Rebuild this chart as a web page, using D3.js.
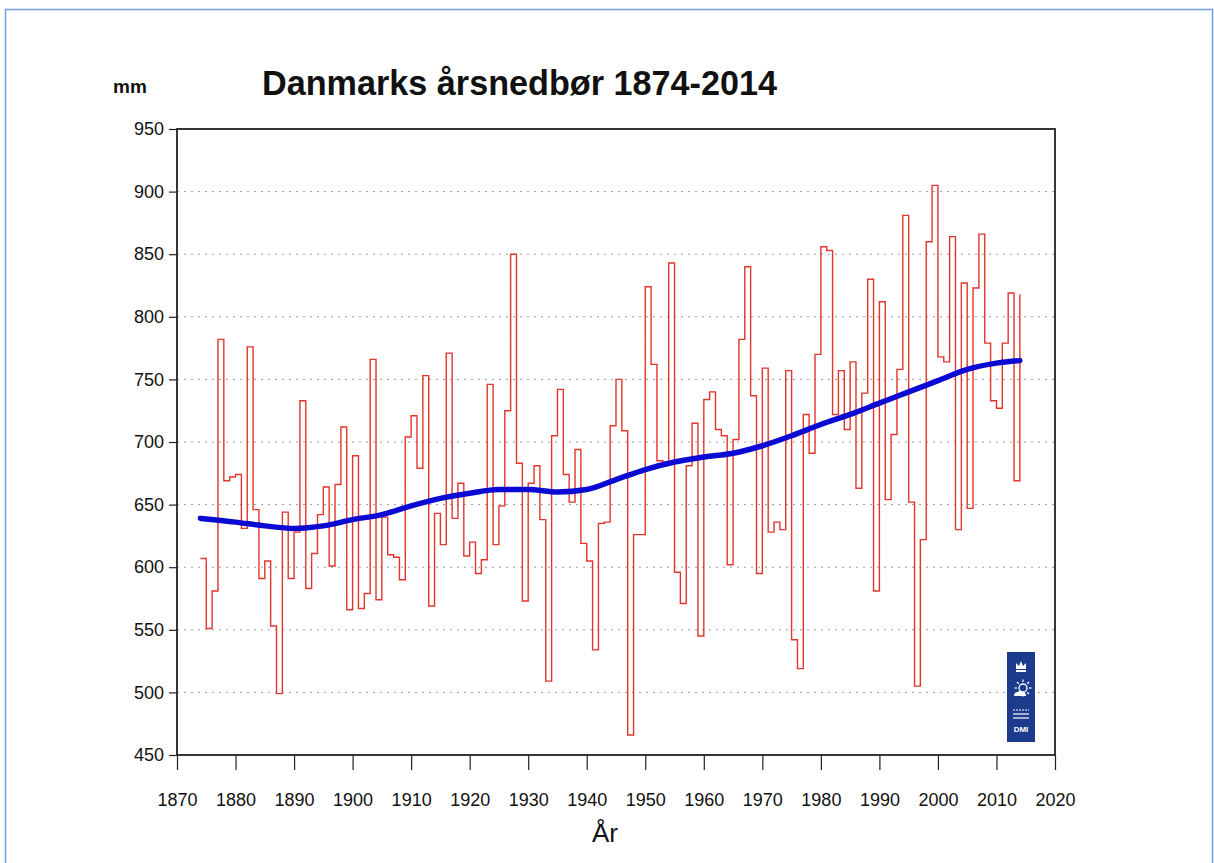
<!DOCTYPE html>
<html lang="da">
<head>
<meta charset="utf-8">
<title>Danmarks årsnedbør 1874-2014</title>
<script src="https://cdn.jsdelivr.net/npm/d3@7"></script>
<style>
  body { margin: 0; background: #fff; }
  svg text { font-family: "Liberation Sans", Arial, Helvetica, sans-serif; }
</style>
</head>
<body>
<script>
// årsnedbør (mm), et tal pr. år fra 1874 til 2014
var firstYear = 1874;
var rainfall = [
  607, 551, 581, 782, 669, 672, 674, 631, 776, 646,   // 1874-1883
  591, 605, 553, 499, 644, 591, 628, 733, 583, 611,   // 1884-1893
  642, 664, 601, 666, 712, 566, 689, 567, 579, 766,   // 1894-1903
  574, 640, 610, 608, 590, 704, 721, 679, 753, 569,   // 1904-1913
  643, 618, 771, 639, 667, 609, 620, 595, 606, 746,   // 1914-1923
  618, 649, 725, 850, 683, 573, 667, 681, 638, 509,   // 1924-1933
  705, 742, 674, 652, 694, 619, 605, 534, 635, 636,   // 1934-1943
  713, 750, 709, 466, 626, 626, 824, 762, 685, 684,   // 1944-1953
  843, 596, 571, 681, 715, 545, 734, 740, 710, 705,   // 1954-1963
  602, 702, 782, 840, 737, 595, 759, 628, 636, 630,   // 1964-1973
  757, 542, 519, 722, 691, 770, 856, 853, 722, 757,   // 1974-1983
  710, 764, 663, 739, 830, 581, 812, 654, 706, 758,   // 1984-1993
  881, 652, 505, 622, 860, 905, 768, 764, 864, 630,   // 1994-2003
  827, 647, 823, 866, 779, 733, 727, 779, 819, 669,   // 2004-2013
  818                                                 // 2014
];

// udglattet kurve (blå)
var smoothYears  = [1874, 1880, 1885, 1890, 1895, 1900, 1905, 1910, 1915, 1920, 1925, 1930, 1935, 1940, 1945,
                    1950, 1955, 1960, 1965, 1970, 1975, 1980, 1985, 1990, 1995, 2000, 2005, 2010, 2014];
var smoothValues = [639, 636, 633, 631, 633, 638, 642, 649, 655, 659, 662, 662, 660, 662, 670,
                    678, 684, 688, 691, 697, 705, 714, 722, 731, 740, 749, 758, 763, 765];

var xTicks = d3.range(1870, 2021, 10);
var yTicks = d3.range(450, 951, 50);
var gridValues = d3.range(500, 901, 50);

var W = 1214, H = 863;
var plotL = 177, plotR = 1055, plotT = 129, plotB = 755;

var svg = d3.select("body").append("svg")
  .attr("width", W)
  .attr("height", H);

// ramme om hele billedet
svg.append("path")
  .attr("d", "M5.5,863 L5.5,9.5 L1212.5,9.5 L1212.5,863")
  .attr("fill", "none")
  .attr("stroke", "#6f9fdc")
  .attr("stroke-width", 1.5);

var x = d3.scaleLinear().domain([1870, 2020]).range([plotL, plotR]);
var y = d3.scaleLinear().domain([450, 950]).range([plotB, plotT]);

var data = rainfall.map(function(v, i) {
  return {year: firstYear + i, value: v};
});

// gitterlinjer
svg.append("g")
  .selectAll("line")
  .data(gridValues)
  .enter().append("line")
    .attr("x1", plotL)
    .attr("x2", plotR)
    .attr("y1", function(d) { return y(d); })
    .attr("y2", function(d) { return y(d); })
    .attr("stroke", "#9a9a9a")
    .attr("stroke-width", 1)
    .attr("stroke-dasharray", "2,5");

// trappekurve for årsværdier
var stepLine = d3.line()
  .x(function(d) { return x(d.year); })
  .y(function(d) { return y(d.value); })
  .curve(d3.curveStepAfter);

svg.append("path")
  .datum(data)
  .attr("d", stepLine)
  .attr("fill", "none")
  .attr("stroke", "#e2352d")
  .attr("stroke-width", 1.4);

// blå udglattet kurve
var smooth = smoothYears.map(function(yr, i) {
  return {year: yr, value: smoothValues[i]};
});
var smoothLine = d3.line()
  .x(function(d) { return x(d.year); })
  .y(function(d) { return y(d.value); })
  .curve(d3.curveMonotoneX);

svg.append("path")
  .datum(smooth)
  .attr("d", smoothLine)
  .attr("fill", "none")
  .attr("stroke", "#0a0ad2")
  .attr("stroke-width", 5.5)
  .attr("stroke-linecap", "round");

// akser
var xAxis = svg.append("g")
  .attr("transform", "translate(0," + plotB + ")")
  .call(d3.axisBottom(x).tickValues(xTicks).tickSize(15).tickPadding(23).tickFormat(d3.format("d")));

var yAxis = svg.append("g")
  .attr("transform", "translate(" + plotL + ",0)")
  .call(d3.axisLeft(y).tickValues(yTicks).tickSize(8).tickPadding(5));

[xAxis, yAxis].forEach(function(a) {
  a.select(".domain").remove();
  a.selectAll(".tick line").attr("stroke", "#222").attr("stroke-width", 1.2);
  a.selectAll(".tick text")
    .attr("fill", "#111")
    .style("font-size", "18px");
});

// ramme om plotområdet
svg.append("rect")
  .attr("x", plotL)
  .attr("y", plotT)
  .attr("width", plotR - plotL)
  .attr("height", plotB - plotT)
  .attr("fill", "none")
  .attr("stroke", "#222")
  .attr("stroke-width", 1.8);

// titler
svg.append("text")
  .attr("x", 262)
  .attr("y", 95)
  .style("font-size", "34.2px")
  .style("font-weight", "bold")
  .attr("fill", "#111")
  .text("Danmarks årsnedbør 1874-2014");

svg.append("text")
  .attr("x", 113)
  .attr("y", 93)
  .style("font-size", "19px")
  .style("font-weight", "bold")
  .attr("fill", "#111")
  .text("mm");

svg.append("text")
  .attr("x", 605)
  .attr("y", 842)
  .attr("text-anchor", "middle")
  .style("font-size", "26px")
  .attr("fill", "#111")
  .text("År");

// DMI-logo
var logo = svg.append("g").attr("transform", "translate(1007,652)");
logo.append("rect")
  .attr("width", 28)
  .attr("height", 90)
  .attr("fill", "#1d3b8c");
// krone
logo.append("path")
  .attr("d", "M9,17 L9,11 L12,14 L14,9 L16,14 L19,11 L19,17 Z")
  .attr("fill", "#fff");
logo.append("rect").attr("x", 9).attr("y", 18).attr("width", 10).attr("height", 2).attr("fill", "#fff");
// sol og sky
logo.append("circle").attr("cx", 16).attr("cy", 36).attr("r", 4).attr("fill", "none").attr("stroke", "#fff").attr("stroke-width", 1.3);
d3.range(8).forEach(function(k) {
  var a = k * Math.PI / 4;
  logo.append("line")
    .attr("x1", 16 + Math.cos(a) * 6).attr("y1", 36 + Math.sin(a) * 6)
    .attr("x2", 16 + Math.cos(a) * 8.5).attr("y2", 36 + Math.sin(a) * 8.5)
    .attr("stroke", "#fff").attr("stroke-width", 1.2);
});
logo.append("path")
  .attr("d", "M7,44 Q7,40 11,40 Q13,37 16,40 Q19,40 19,44 Z")
  .attr("fill", "#fff");
// bølger
[58, 62, 66].forEach(function(yy) {
  logo.append("line").attr("x1", 6).attr("x2", 22).attr("y1", yy).attr("y2", yy)
    .attr("stroke", "#fff").attr("stroke-width", 1.2)
    .attr("stroke-dasharray", yy === 58 ? "2,1" : null);
});
logo.append("text")
  .attr("x", 14)
  .attr("y", 80)
  .attr("text-anchor", "middle")
  .style("font-size", "8px")
  .style("font-weight", "bold")
  .attr("fill", "#fff")
  .text("DMI");
</script>
</body>
</html>
